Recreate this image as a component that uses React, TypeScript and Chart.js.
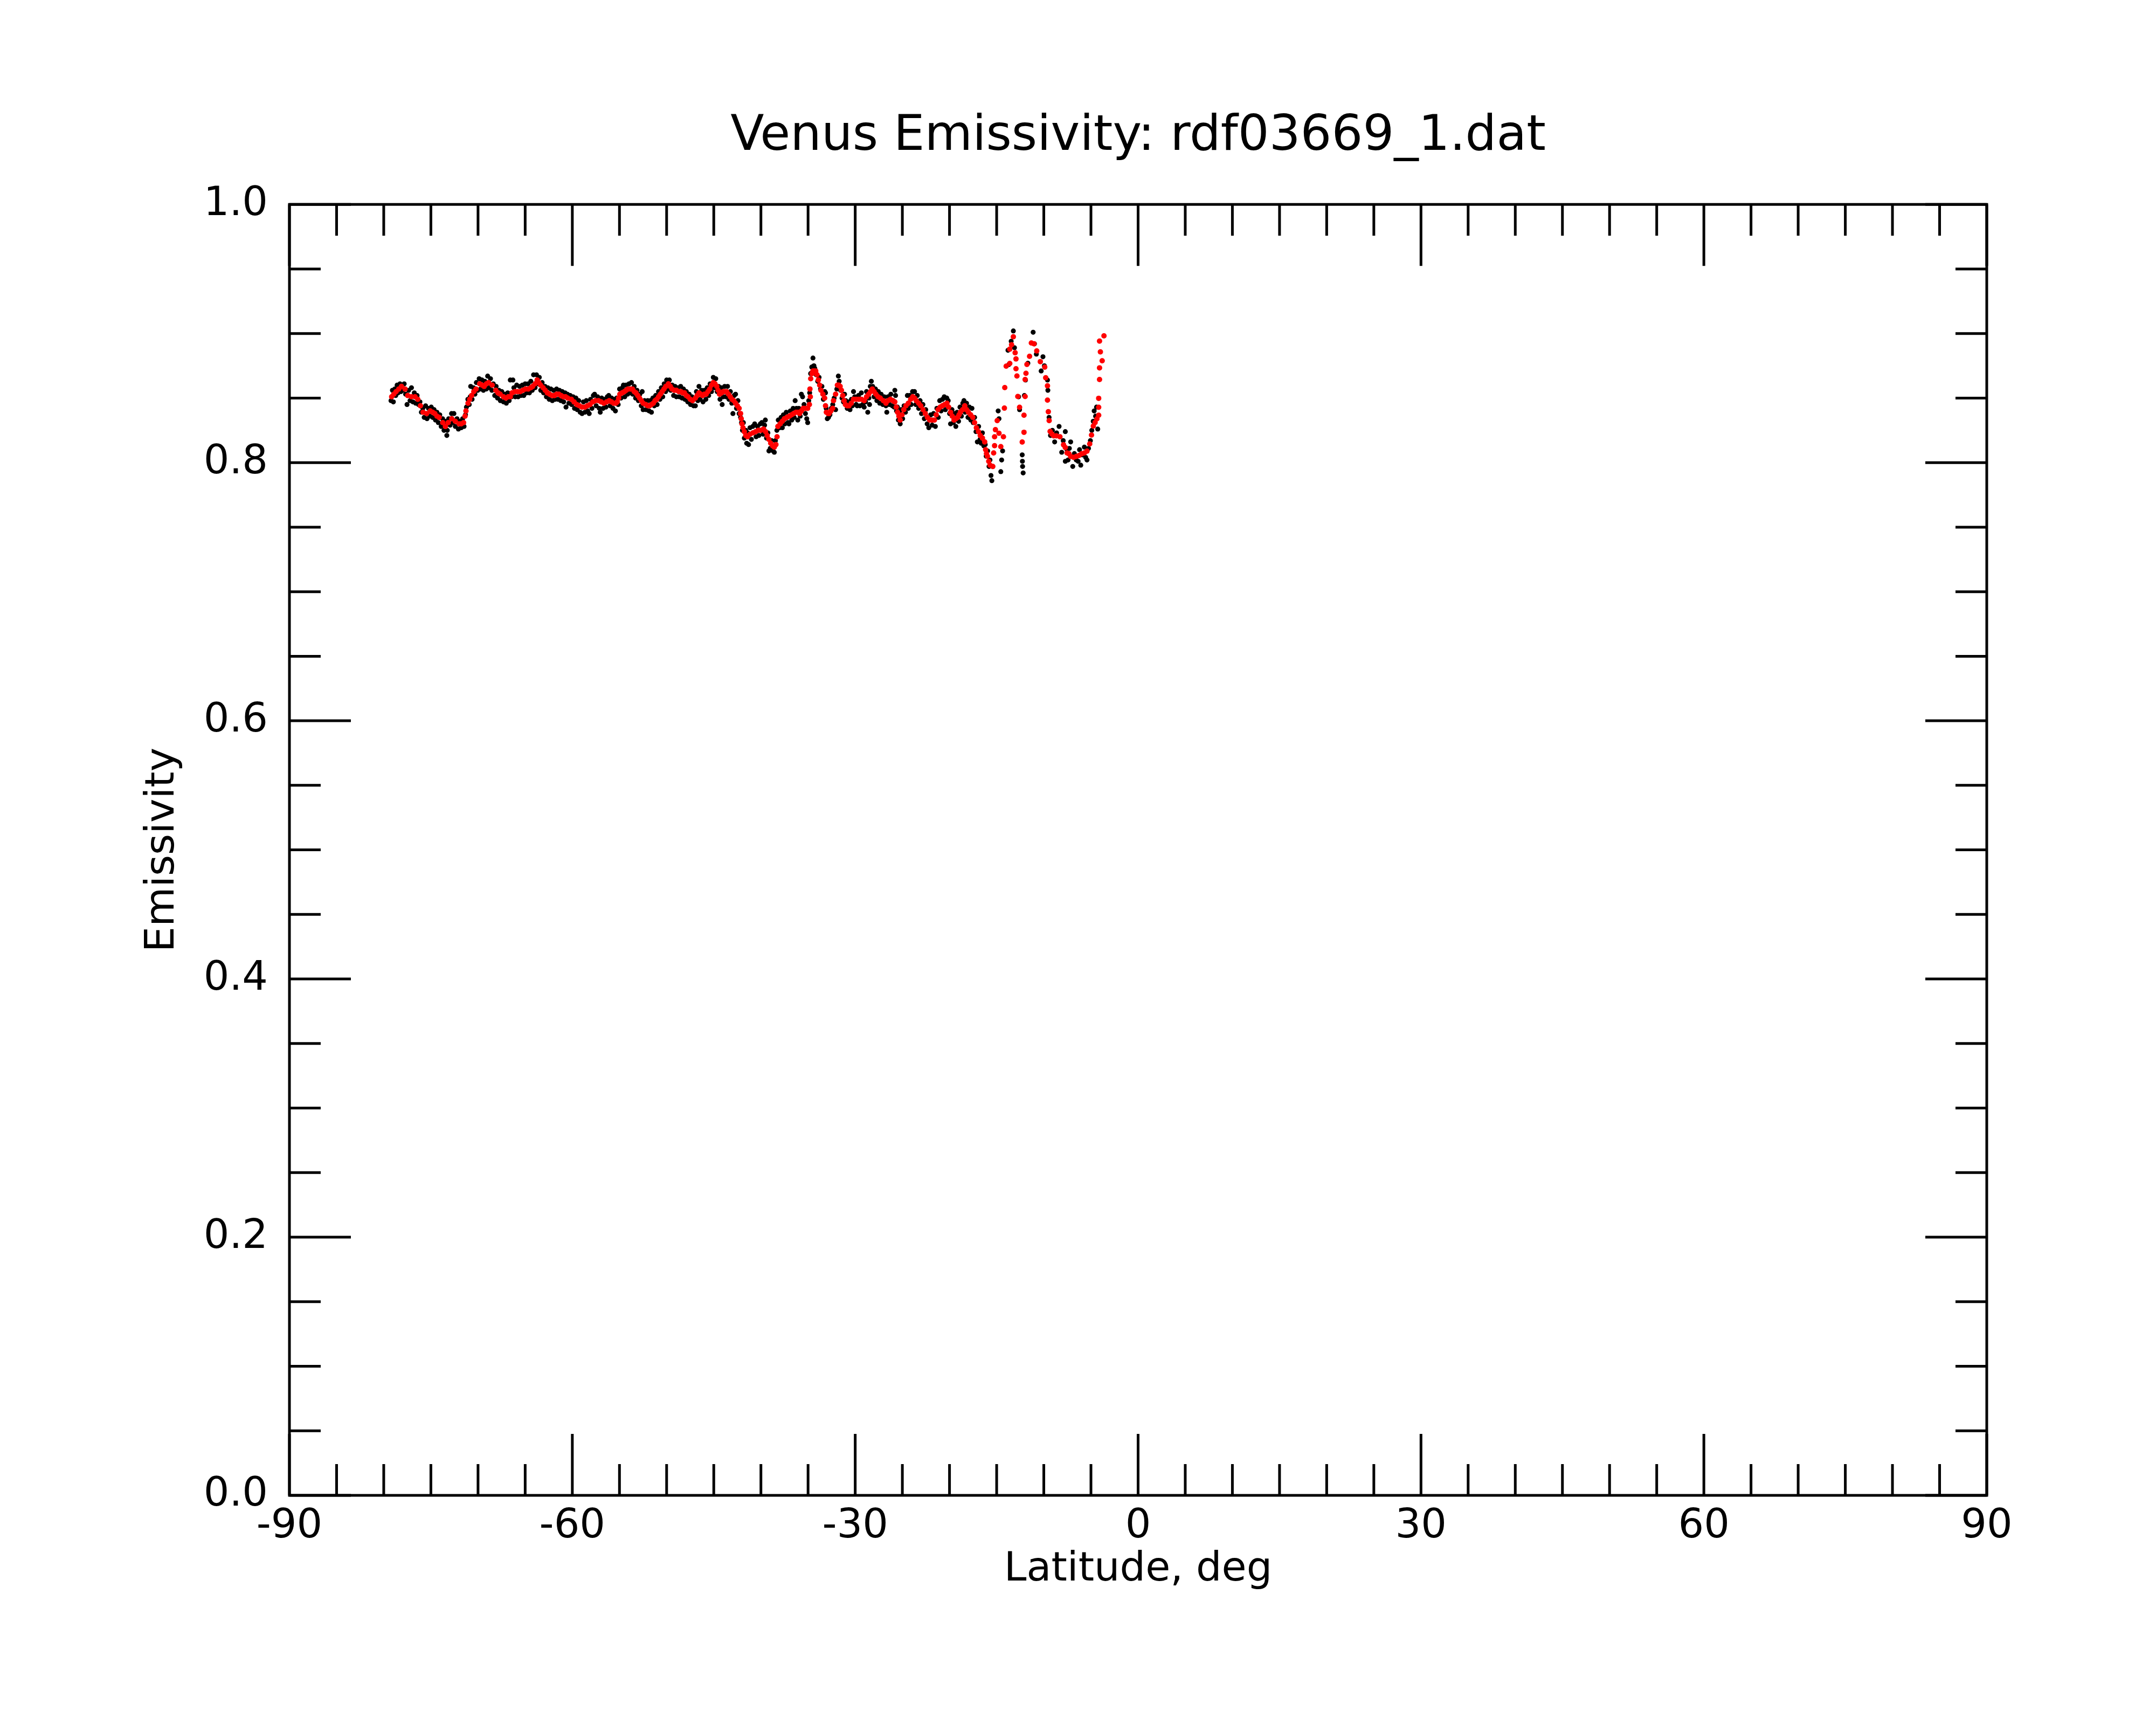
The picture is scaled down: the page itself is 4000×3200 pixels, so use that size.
import { useEffect, useRef } from "react";

import { Chart, type Plugin, registerables } from "chart.js";

Chart.register(...registerables);

const FONT = "'DejaVu Sans', 'Liberation Sans', sans-serif";

const TITLE = "Venus Emissivity: rdf03669_1.dat";
const X_LABEL = "Latitude, deg";
const Y_LABEL = "Emissivity";

// axis ticks
const xMajorTicks = [-90, -60, -30, 0, 30, 60, 90];
const xMinorStep = 5;
const yMajorTicks = [0, 0.2, 0.4, 0.6, 0.8, 1.0];
const yMinorStep = 0.05;

// raw emissivity samples (black), [latitude, emissivity]
const rawSamples: [number, number][] = [
  [-79.23, 0.848], [-79.08, 0.856], [-78.98, 0.847], [-78.83, 0.857], [-78.73, 0.852], [-78.58, 0.86],
  [-78.48, 0.854], [-78.28, 0.861], [-78.18, 0.855], [-77.98, 0.856], [-77.83, 0.861], [-77.68, 0.853],
  [-77.53, 0.845], [-77.36, 0.856], [-77.21, 0.848], [-77.06, 0.858], [-76.91, 0.847], [-76.76, 0.854],
  [-76.61, 0.846], [-76.46, 0.852], [-76.31, 0.845], [-76.16, 0.847], [-76.01, 0.839], [-75.86, 0.842],
  [-75.71, 0.835], [-75.56, 0.844], [-75.41, 0.834], [-75.26, 0.842], [-75.11, 0.836], [-74.96, 0.843],
  [-74.81, 0.835], [-74.66, 0.841], [-74.51, 0.833], [-74.36, 0.839], [-74.21, 0.831], [-74.06, 0.837],
  [-73.91, 0.828], [-73.76, 0.834], [-73.61, 0.825], [-73.46, 0.832], [-73.31, 0.821], [-73.26, 0.825],
  [-73.11, 0.834], [-72.96, 0.829], [-72.81, 0.838], [-72.66, 0.831], [-72.56, 0.838], [-72.41, 0.828],
  [-72.23, 0.834], [-72.08, 0.826], [-71.93, 0.832], [-71.78, 0.827], [-71.63, 0.834], [-71.48, 0.828],
  [-71.33, 0.837], [-71.23, 0.843], [-71.08, 0.849], [-70.93, 0.845], [-70.83, 0.851], [-70.78, 0.859],
  [-70.63, 0.849], [-70.48, 0.858], [-70.33, 0.853], [-70.18, 0.862], [-70.03, 0.856], [-69.88, 0.865],
  [-69.73, 0.857], [-69.58, 0.864], [-69.43, 0.856], [-69.28, 0.863], [-69.13, 0.857], [-68.98, 0.867],
  [-68.83, 0.858], [-68.68, 0.865], [-68.53, 0.856], [-68.38, 0.861], [-68.23, 0.852], [-68.08, 0.859],
  [-67.93, 0.85], [-67.78, 0.856], [-67.63, 0.848], [-67.48, 0.855], [-67.3, 0.847], [-67.15, 0.853],
  [-67.0, 0.846], [-66.85, 0.854], [-66.7, 0.848], [-66.58, 0.864], [-66.45, 0.851], [-66.3, 0.864],
  [-66.2, 0.858], [-66.05, 0.851], [-65.9, 0.86], [-65.75, 0.851], [-65.6, 0.859], [-65.45, 0.852],
  [-65.3, 0.86], [-65.15, 0.852], [-65.0, 0.861], [-64.85, 0.854], [-64.7, 0.861], [-64.55, 0.854],
  [-64.4, 0.863], [-64.25, 0.856], [-64.11, 0.868], [-63.95, 0.858], [-63.8, 0.868], [-63.65, 0.861],
  [-63.5, 0.866], [-63.35, 0.856], [-63.2, 0.862], [-63.05, 0.854], [-62.9, 0.859], [-62.75, 0.851],
  [-62.6, 0.858], [-62.45, 0.849], [-62.27, 0.857], [-62.12, 0.848], [-61.97, 0.856], [-61.82, 0.849],
  [-61.67, 0.857], [-61.52, 0.849], [-61.37, 0.856], [-61.22, 0.848], [-61.07, 0.855], [-60.92, 0.847],
  [-60.77, 0.854], [-60.67, 0.843], [-60.52, 0.853], [-60.37, 0.846], [-60.22, 0.852], [-60.07, 0.845],
  [-59.92, 0.851], [-59.77, 0.842], [-59.62, 0.85], [-59.47, 0.841], [-59.32, 0.848], [-59.17, 0.839],
  [-58.97, 0.838], [-58.82, 0.847], [-58.67, 0.839], [-58.52, 0.848], [-58.37, 0.84], [-58.21, 0.838],
  [-58.07, 0.849], [-57.92, 0.842], [-57.77, 0.852], [-57.64, 0.853], [-57.47, 0.844], [-57.32, 0.851],
  [-57.14, 0.842], [-57.04, 0.839], [-56.89, 0.85], [-56.74, 0.842], [-56.59, 0.849], [-56.44, 0.843],
  [-56.29, 0.851], [-56.14, 0.852], [-55.99, 0.844], [-55.84, 0.85], [-55.69, 0.842], [-55.54, 0.849],
  [-55.43, 0.84], [-55.29, 0.85], [-55.14, 0.845], [-54.99, 0.857], [-54.84, 0.85], [-54.69, 0.858],
  [-54.58, 0.86], [-54.44, 0.851], [-54.29, 0.86], [-54.14, 0.853], [-53.99, 0.861], [-53.84, 0.854],
  [-53.73, 0.862], [-53.59, 0.853], [-53.44, 0.859], [-53.29, 0.85], [-53.14, 0.856], [-52.99, 0.848],
  [-52.84, 0.853], [-52.69, 0.844], [-52.59, 0.855], [-52.49, 0.841], [-52.34, 0.848], [-52.16, 0.841],
  [-52.01, 0.848], [-51.86, 0.84], [-51.71, 0.848], [-51.61, 0.839], [-51.46, 0.85], [-51.31, 0.844],
  [-51.16, 0.852], [-51.01, 0.845], [-50.86, 0.855], [-50.71, 0.849], [-50.56, 0.858], [-50.41, 0.851],
  [-50.26, 0.861], [-50.11, 0.855], [-50.0, 0.864], [-49.86, 0.857], [-49.71, 0.864], [-49.56, 0.856],
  [-49.41, 0.86], [-49.26, 0.852], [-49.11, 0.859], [-48.96, 0.851], [-48.81, 0.858], [-48.66, 0.851],
  [-48.51, 0.859], [-48.36, 0.85], [-48.21, 0.857], [-48.06, 0.849], [-47.91, 0.855], [-47.76, 0.847],
  [-47.61, 0.853], [-47.46, 0.845], [-47.31, 0.851], [-47.14, 0.844], [-46.95, 0.844], [-46.84, 0.855],
  [-46.69, 0.848], [-46.57, 0.859], [-46.44, 0.849], [-46.29, 0.856], [-46.14, 0.847], [-45.99, 0.856],
  [-45.84, 0.849], [-45.69, 0.858], [-45.54, 0.852], [-45.39, 0.861], [-45.24, 0.855], [-45.05, 0.866],
  [-44.94, 0.858], [-44.79, 0.865], [-44.64, 0.855], [-44.49, 0.859], [-44.34, 0.849], [-44.19, 0.858],
  [-44.11, 0.845], [-43.99, 0.851], [-43.84, 0.859], [-43.69, 0.851], [-43.54, 0.859], [-43.39, 0.849],
  [-43.24, 0.855], [-43.09, 0.846], [-42.97, 0.838], [-42.84, 0.852], [-42.69, 0.853], [-42.59, 0.842],
  [-42.44, 0.848], [-42.31, 0.838], [-42.16, 0.835], [-42.06, 0.831], [-41.96, 0.825], [-41.86, 0.831],
  [-41.76, 0.819], [-41.61, 0.825], [-41.51, 0.815], [-41.41, 0.823], [-41.31, 0.814], [-41.16, 0.827],
  [-41.01, 0.818], [-40.86, 0.828], [-40.66, 0.83], [-40.51, 0.82], [-40.36, 0.828], [-40.21, 0.821],
  [-40.06, 0.83], [-39.91, 0.831], [-39.76, 0.822], [-39.61, 0.829], [-39.53, 0.833], [-39.41, 0.819],
  [-39.26, 0.823], [-39.15, 0.809], [-39.01, 0.811], [-38.86, 0.817], [-38.71, 0.809], [-38.58, 0.808],
  [-38.46, 0.817], [-38.31, 0.825], [-38.16, 0.833], [-38.01, 0.827], [-37.86, 0.835], [-37.73, 0.827],
  [-37.61, 0.837], [-37.46, 0.83], [-37.31, 0.839], [-37.13, 0.831], [-37.03, 0.83], [-36.88, 0.84],
  [-36.73, 0.833], [-36.58, 0.842], [-36.48, 0.835], [-36.37, 0.848], [-36.23, 0.842], [-36.09, 0.833],
  [-35.98, 0.842], [-35.83, 0.836], [-35.71, 0.853], [-35.58, 0.851], [-35.43, 0.845], [-35.28, 0.838],
  [-35.14, 0.834], [-35.04, 0.831], [-34.93, 0.848], [-34.83, 0.854], [-34.73, 0.869], [-34.61, 0.874],
  [-34.48, 0.881], [-34.38, 0.875], [-34.29, 0.873], [-34.13, 0.868], [-33.98, 0.863], [-33.83, 0.866],
  [-33.68, 0.857], [-33.53, 0.859], [-33.38, 0.849], [-33.23, 0.855], [-33.15, 0.854], [-33.08, 0.842],
  [-32.96, 0.834], [-32.83, 0.835], [-32.68, 0.837], [-32.53, 0.842], [-32.38, 0.845], [-32.23, 0.85],
  [-32.08, 0.841], [-31.95, 0.857], [-31.79, 0.867], [-31.7, 0.863], [-31.55, 0.856], [-31.4, 0.85],
  [-31.25, 0.847], [-31.13, 0.853], [-31.0, 0.848], [-30.85, 0.842], [-30.7, 0.847], [-30.55, 0.841],
  [-30.4, 0.849], [-30.3, 0.844], [-30.18, 0.855], [-30.05, 0.851], [-29.9, 0.845], [-29.8, 0.844],
  [-29.65, 0.852], [-29.5, 0.844], [-29.35, 0.854], [-29.2, 0.845], [-29.05, 0.843], [-28.9, 0.847],
  [-28.8, 0.855], [-28.67, 0.839], [-28.55, 0.85], [-28.48, 0.845], [-28.4, 0.859], [-28.29, 0.863],
  [-28.15, 0.859], [-28.0, 0.851], [-27.85, 0.857], [-27.7, 0.848], [-27.55, 0.855], [-27.4, 0.846],
  [-27.25, 0.853], [-27.07, 0.845], [-26.92, 0.851], [-26.74, 0.844], [-26.65, 0.839], [-26.52, 0.851],
  [-26.37, 0.845], [-26.22, 0.853], [-26.07, 0.844], [-25.97, 0.848], [-25.87, 0.843], [-25.8, 0.856],
  [-25.72, 0.852], [-25.62, 0.84], [-25.52, 0.843], [-25.42, 0.833], [-25.32, 0.839], [-25.23, 0.83],
  [-25.12, 0.841], [-24.97, 0.834], [-24.82, 0.844], [-24.67, 0.839], [-24.47, 0.852], [-24.37, 0.842],
  [-24.22, 0.852], [-24.07, 0.845], [-23.92, 0.855], [-23.71, 0.855], [-23.57, 0.845], [-23.42, 0.852],
  [-23.27, 0.842], [-23.12, 0.848], [-22.97, 0.838], [-22.82, 0.845], [-22.67, 0.834], [-22.52, 0.841],
  [-22.37, 0.83], [-22.2, 0.827], [-21.99, 0.837], [-21.84, 0.829], [-21.69, 0.838], [-21.5, 0.828],
  [-21.34, 0.842], [-21.19, 0.835], [-21.04, 0.848], [-20.89, 0.84], [-20.74, 0.849], [-20.56, 0.851],
  [-20.44, 0.841], [-20.29, 0.85], [-20.14, 0.848], [-19.99, 0.838], [-19.89, 0.83], [-19.74, 0.841],
  [-19.59, 0.831], [-19.44, 0.838], [-19.33, 0.828], [-19.19, 0.839], [-19.04, 0.832], [-18.89, 0.843],
  [-18.74, 0.836], [-18.59, 0.846], [-18.47, 0.848], [-18.34, 0.839], [-18.19, 0.846], [-18.04, 0.835],
  [-17.89, 0.843], [-17.74, 0.833], [-17.62, 0.842], [-17.49, 0.831], [-17.34, 0.835], [-17.19, 0.824],
  [-17.05, 0.816], [-16.91, 0.828], [-16.76, 0.818], [-16.64, 0.815], [-16.51, 0.823], [-16.36, 0.813],
  [-16.21, 0.814], [-16.11, 0.805], [-15.96, 0.809], [-15.81, 0.797], [-15.71, 0.802], [-15.6, 0.79],
  [-15.51, 0.786], [-14.84, 0.84], [-14.75, 0.834], [-14.56, 0.793], [-14.47, 0.802], [-14.37, 0.809],
  [-13.8, 0.887], [-13.71, 0.876], [-13.46, 0.894], [-13.23, 0.902], [-13.11, 0.889], [-12.67, 0.851],
  [-12.57, 0.841], [-12.29, 0.806], [-12.27, 0.801], [-12.25, 0.797], [-12.19, 0.792], [-12.06, 0.852],
  [-11.94, 0.864], [-11.69, 0.877], [-11.13, 0.901], [-10.99, 0.892], [-10.79, 0.884], [-10.28, 0.871],
  [-10.09, 0.882], [-9.94, 0.875], [-9.61, 0.864], [-9.57, 0.856], [-9.44, 0.835], [-9.29, 0.821],
  [-9.09, 0.825], [-8.85, 0.816], [-8.64, 0.823], [-8.38, 0.828], [-8.1, 0.808], [-7.94, 0.817],
  [-7.72, 0.824], [-7.72, 0.801], [-7.54, 0.81], [-7.43, 0.802], [-7.29, 0.811], [-7.15, 0.816],
  [-6.93, 0.797], [-6.76, 0.807], [-6.56, 0.802], [-6.36, 0.801], [-6.21, 0.81], [-6.08, 0.798],
  [-5.91, 0.806], [-5.7, 0.812], [-5.56, 0.804], [-5.42, 0.802], [-5.26, 0.811], [-5.06, 0.817],
  [-4.91, 0.825], [-4.76, 0.832], [-4.66, 0.84], [-4.51, 0.836], [-4.41, 0.843], [-4.28, 0.826],
];

// smoothed emissivity (red), [latitude, emissivity]
const smoothedSamples: [number, number][] = [
  [-79.16, 0.851], [-78.93, 0.853], [-78.69, 0.855], [-78.4, 0.857], [-78.12, 0.859], [-77.74, 0.857],
  [-77.46, 0.852], [-77.06, 0.851], [-76.68, 0.851], [-76.39, 0.849], [-76.11, 0.844], [-75.83, 0.839],
  [-75.45, 0.838], [-75.07, 0.84], [-74.81, 0.839], [-74.59, 0.838], [-74.36, 0.836], [-74.12, 0.835],
  [-73.74, 0.831], [-73.46, 0.828], [-73.17, 0.831], [-72.79, 0.834], [-72.41, 0.832], [-72.01, 0.83],
  [-71.78, 0.83], [-71.53, 0.831], [-71.38, 0.836], [-71.28, 0.84], [-71.06, 0.846], [-70.88, 0.849],
  [-70.68, 0.852], [-70.45, 0.855], [-70.21, 0.857], [-69.83, 0.861], [-69.58, 0.86], [-69.35, 0.859],
  [-69.11, 0.861], [-68.88, 0.862], [-68.5, 0.86], [-68.12, 0.856], [-67.88, 0.854], [-67.65, 0.853],
  [-67.3, 0.851], [-67.05, 0.85], [-66.8, 0.851], [-66.58, 0.851], [-66.39, 0.854], [-66.1, 0.855],
  [-65.82, 0.855], [-65.53, 0.855], [-65.25, 0.856], [-64.95, 0.857], [-64.68, 0.857], [-64.4, 0.858],
  [-64.21, 0.859], [-63.95, 0.861], [-63.73, 0.864], [-63.55, 0.862], [-63.36, 0.86], [-63.1, 0.858],
  [-62.88, 0.856], [-62.65, 0.854], [-62.41, 0.853], [-62.14, 0.852], [-61.9, 0.852], [-61.67, 0.853],
  [-61.43, 0.853], [-61.19, 0.852], [-60.96, 0.851], [-60.72, 0.851], [-60.48, 0.85], [-60.1, 0.849],
  [-59.82, 0.847], [-59.53, 0.845], [-59.25, 0.844], [-58.97, 0.843], [-58.67, 0.843], [-58.4, 0.844],
  [-58.12, 0.845], [-57.83, 0.847], [-57.55, 0.848], [-57.23, 0.848], [-56.94, 0.847], [-56.66, 0.846],
  [-56.37, 0.847], [-56.09, 0.848], [-55.84, 0.847], [-55.62, 0.846], [-55.39, 0.846], [-55.24, 0.847],
  [-55.09, 0.85], [-54.96, 0.853], [-54.72, 0.854], [-54.48, 0.855], [-54.29, 0.856], [-54.1, 0.857],
  [-53.84, 0.857], [-53.63, 0.857], [-53.44, 0.855], [-53.25, 0.854], [-53.06, 0.852], [-52.87, 0.85],
  [-52.68, 0.848], [-52.49, 0.846], [-52.21, 0.845], [-51.99, 0.844], [-51.81, 0.844], [-51.61, 0.845],
  [-51.41, 0.846], [-51.23, 0.848], [-51.04, 0.849], [-50.85, 0.851], [-50.66, 0.853], [-50.47, 0.855],
  [-50.28, 0.857], [-50.09, 0.859], [-49.81, 0.861], [-49.61, 0.859], [-49.43, 0.857], [-49.19, 0.856],
  [-48.96, 0.856], [-48.71, 0.855], [-48.48, 0.855], [-48.29, 0.854], [-48.11, 0.854], [-47.91, 0.852],
  [-47.73, 0.851], [-47.49, 0.849], [-47.25, 0.848], [-46.95, 0.85], [-46.76, 0.852], [-46.57, 0.854],
  [-46.39, 0.853], [-46.19, 0.852], [-45.99, 0.853], [-45.81, 0.853], [-45.62, 0.855], [-45.43, 0.857],
  [-45.24, 0.86], [-45.05, 0.862], [-44.87, 0.861], [-44.68, 0.859], [-44.54, 0.856], [-44.39, 0.853],
  [-44.19, 0.854], [-44.01, 0.855], [-43.82, 0.855], [-43.63, 0.855], [-43.44, 0.853], [-43.25, 0.851],
  [-43.07, 0.849], [-42.88, 0.848], [-42.69, 0.846], [-42.5, 0.844], [-42.31, 0.842], [-42.16, 0.838],
  [-42.09, 0.834], [-42.01, 0.83], [-41.9, 0.827], [-41.76, 0.824], [-41.61, 0.821], [-41.42, 0.82],
  [-41.16, 0.822], [-40.85, 0.823], [-40.56, 0.824], [-40.28, 0.825], [-40.01, 0.825], [-39.72, 0.826],
  [-39.51, 0.824], [-39.34, 0.821], [-39.16, 0.818], [-38.96, 0.815], [-38.76, 0.813], [-38.58, 0.812],
  [-38.41, 0.814], [-38.29, 0.82], [-38.2, 0.828], [-37.96, 0.83], [-37.73, 0.832], [-37.51, 0.834],
  [-37.25, 0.835], [-36.98, 0.836], [-36.75, 0.837], [-36.53, 0.838], [-36.28, 0.839], [-36.08, 0.839],
  [-35.9, 0.838], [-35.71, 0.84], [-35.52, 0.842], [-35.28, 0.842], [-35.04, 0.842], [-34.86, 0.845],
  [-34.76, 0.851], [-34.8, 0.857], [-34.72, 0.865], [-34.58, 0.869], [-34.48, 0.871], [-34.33, 0.871],
  [-34.19, 0.871], [-34.05, 0.868], [-33.91, 0.864], [-33.77, 0.86], [-33.63, 0.856], [-33.43, 0.853],
  [-33.24, 0.85], [-33.15, 0.844], [-33.06, 0.839], [-32.88, 0.838], [-32.77, 0.838], [-32.58, 0.84],
  [-32.39, 0.842], [-32.3, 0.848], [-32.08, 0.853], [-31.89, 0.86], [-31.75, 0.86], [-31.6, 0.859],
  [-31.46, 0.856], [-31.32, 0.852], [-31.18, 0.848], [-31.04, 0.845], [-30.85, 0.844], [-30.66, 0.844],
  [-30.42, 0.846], [-30.18, 0.849], [-29.9, 0.849], [-29.61, 0.849], [-29.33, 0.849], [-29.05, 0.848],
  [-28.8, 0.851], [-28.57, 0.853], [-28.38, 0.855], [-28.19, 0.857], [-28.0, 0.855], [-27.81, 0.853],
  [-27.58, 0.851], [-27.34, 0.85], [-27.02, 0.848], [-26.74, 0.846], [-26.52, 0.848], [-26.27, 0.849],
  [-26.02, 0.848], [-25.8, 0.847], [-25.65, 0.843], [-25.51, 0.839], [-25.37, 0.836], [-25.23, 0.833],
  [-25.04, 0.837], [-24.85, 0.841], [-24.62, 0.844], [-24.37, 0.846], [-24.12, 0.849], [-23.9, 0.851],
  [-23.71, 0.85], [-23.52, 0.848], [-23.27, 0.846], [-23.05, 0.844], [-22.81, 0.841], [-22.57, 0.838],
  [-22.34, 0.835], [-22.1, 0.833], [-21.84, 0.833], [-21.6, 0.833], [-21.41, 0.837], [-21.22, 0.841],
  [-20.99, 0.843], [-20.75, 0.844], [-20.51, 0.845], [-20.27, 0.846], [-20.09, 0.843], [-19.89, 0.839],
  [-19.71, 0.836], [-19.52, 0.833], [-19.33, 0.834], [-19.14, 0.835], [-18.99, 0.837], [-18.85, 0.839],
  [-18.61, 0.841], [-18.38, 0.844], [-18.19, 0.841], [-18.0, 0.839], [-17.76, 0.837], [-17.53, 0.835],
  [-17.34, 0.831], [-17.15, 0.827], [-16.93, 0.824], [-16.74, 0.821], [-16.51, 0.819], [-16.27, 0.816],
  [-16.17, 0.81], [-16.08, 0.807], [-15.98, 0.805], [-15.84, 0.801], [-15.7, 0.798], [-15.41, 0.797],
  [-15.32, 0.8075], [-15.22, 0.8131], [-15.22, 0.82], [-15.13, 0.8255], [-14.94, 0.8325], [-14.75, 0.8227],
  [-14.56, 0.8124], [-14.28, 0.82], [-14.18, 0.8422], [-14.14, 0.8581], [-13.99, 0.8747], [-13.61, 0.8768],
  [-13.61, 0.8879], [-13.42, 0.8913], [-13.23, 0.8975], [-13.04, 0.8851], [-12.95, 0.8803], [-12.95, 0.8727],
  [-12.85, 0.8671], [-12.76, 0.8512], [-12.57, 0.8429], [-12.1, 0.8367], [-12.1, 0.8235], [-12.29, 0.8159],
  [-11.98, 0.8512], [-11.98, 0.8644], [-11.89, 0.8692], [-11.79, 0.8761], [-11.51, 0.8823], [-11.32, 0.8927],
  [-11.04, 0.892], [-10.75, 0.8865], [-10.37, 0.8782], [-9.9, 0.874], [-9.8, 0.8657], [-9.61, 0.8595],
  [-9.61, 0.8484], [-9.52, 0.8394], [-9.43, 0.8325], [-9.33, 0.8242], [-9.14, 0.8221], [-8.95, 0.8207],
  [-8.67, 0.8207], [-8.29, 0.82], [-7.91, 0.8138], [-7.72, 0.8117], [-7.53, 0.8075], [-7.34, 0.8069],
  [-7.15, 0.8048], [-6.84, 0.8041], [-6.55, 0.8048], [-6.27, 0.8055], [-5.98, 0.8069], [-5.7, 0.8075],
  [-5.42, 0.8089], [-5.13, 0.8145], [-4.94, 0.8214], [-4.75, 0.8283], [-4.56, 0.8311], [-4.37, 0.8339],
  [-4.18, 0.8367], [-4.18, 0.8429], [-4.18, 0.8498], [-4.09, 0.8644], [-4.09, 0.8734], [-3.81, 0.8789],
  [-4.0, 0.8858], [-4.09, 0.8941], [-3.62, 0.8982],
];

const MAJOR_TICK = 114;
const MINOR_TICK = 58;
const FRAME_WIDTH = 5;

// IDL-style frame: box with inward ticks on all four sides
const framePlugin: Plugin<"scatter"> = {
  id: "idlFrame",
  afterDraw(chart) {
    const { ctx, chartArea: a } = chart;
    const xs = chart.scales.x;
    const ys = chart.scales.y;
    ctx.save();
    ctx.strokeStyle = "#000";
    ctx.lineWidth = FRAME_WIDTH;
    ctx.lineCap = "butt";
    ctx.beginPath();
    for (let v = xs.min; v <= xs.max + 1e-6; v += xMinorStep) {
      const px = xs.getPixelForValue(v);
      const len = xMajorTicks.some((t) => Math.abs(t - v) < 1e-6) ? MAJOR_TICK : MINOR_TICK;
      ctx.moveTo(px, a.bottom);
      ctx.lineTo(px, a.bottom - len);
      ctx.moveTo(px, a.top);
      ctx.lineTo(px, a.top + len);
    }
    const nY = Math.round((ys.max - ys.min) / yMinorStep);
    for (let i = 0; i <= nY; i++) {
      const v = ys.min + i * yMinorStep;
      const py = ys.getPixelForValue(v);
      const len = yMajorTicks.some((t) => Math.abs(t - v) < 1e-6) ? MAJOR_TICK : MINOR_TICK;
      ctx.moveTo(a.left, py);
      ctx.lineTo(a.left + len, py);
      ctx.moveTo(a.right, py);
      ctx.lineTo(a.right - len, py);
    }
    ctx.stroke();
    ctx.strokeRect(a.left, a.top, a.right - a.left, a.bottom - a.top);
    ctx.restore();
  },
};

export default function App() {
  const canvasRef = useRef<HTMLCanvasElement>(null);
  const chartRef = useRef<Chart<"scatter"> | null>(null);

  useEffect(() => {
    document.body.style.margin = "0";
    if (!canvasRef.current) return;
    if (chartRef.current) chartRef.current.destroy();

    const axisFont = { family: FONT, size: 75, weight: "normal" as const };

    chartRef.current = new Chart(canvasRef.current, {
      type: "scatter",
      data: {
        datasets: [
          {
            label: "Smoothed",
            data: smoothedSamples.map(([x, y]) => ({ x, y })),
            backgroundColor: "#ff0000",
            borderColor: "#ff0000",
            pointRadius: 5,
            pointBorderWidth: 0,
            order: 0,
          },
          {
            label: "Raw",
            data: rawSamples.map(([x, y]) => ({ x, y })),
            backgroundColor: "#000000",
            borderColor: "#000000",
            pointRadius: 4.6,
            pointBorderWidth: 0,
            order: 1,
          },
        ],
      },
      options: {
        animation: false,
        responsive: false,
        devicePixelRatio: 1,
        layout: { padding: { left: 0, right: 314, top: 0, bottom: 0 } },
        plugins: {
          legend: { display: false },
          tooltip: { enabled: false },
          title: {
            display: true,
            text: TITLE,
            color: "#000",
            fullSize: false,
            font: { family: FONT, size: 91, weight: "normal" },
            padding: { top: 200, bottom: 70 },
          },
        },
        scales: {
          x: {
            type: "linear",
            min: -90,
            max: 90,
            grid: { display: false, drawTicks: false },
            border: { display: false },
            ticks: {
              stepSize: 30,
              color: "#000",
              font: axisFont,
              padding: 14,
              maxRotation: 0,
              autoSkip: false,
            },
            title: {
              display: true,
              text: X_LABEL,
              color: "#000",
              font: axisFont,
              padding: { top: 0, bottom: 242 },
            },
            afterFit: (scale) => {
              scale.height = 426;
            },
          },
          y: {
            type: "linear",
            min: 0,
            max: 1,
            grid: { display: false, drawTicks: false },
            border: { display: false },
            ticks: {
              stepSize: 0.2,
              color: "#000",
              font: axisFont,
              padding: 40,
              callback: (v) => Number(v).toFixed(1),
            },
            title: {
              display: true,
              text: Y_LABEL,
              color: "#000",
              font: axisFont,
              padding: { top: 258, bottom: 0 },
            },
            afterFit: (scale) => {
              scale.width = 537;
            },
          },
        },
      },
      plugins: [framePlugin],
    });

    return () => chartRef.current?.destroy();
  }, []);

  return (
    <div style={{ width: 4000, height: 3200, background: "#fff" }}>
      <canvas
        ref={canvasRef}
        width={4000}
        height={3200}
        style={{ display: "block" }}
        role="img"
        aria-label="Scatter plot of Venus emissivity versus latitude, raw and smoothed"
      />
    </div>
  );
}
